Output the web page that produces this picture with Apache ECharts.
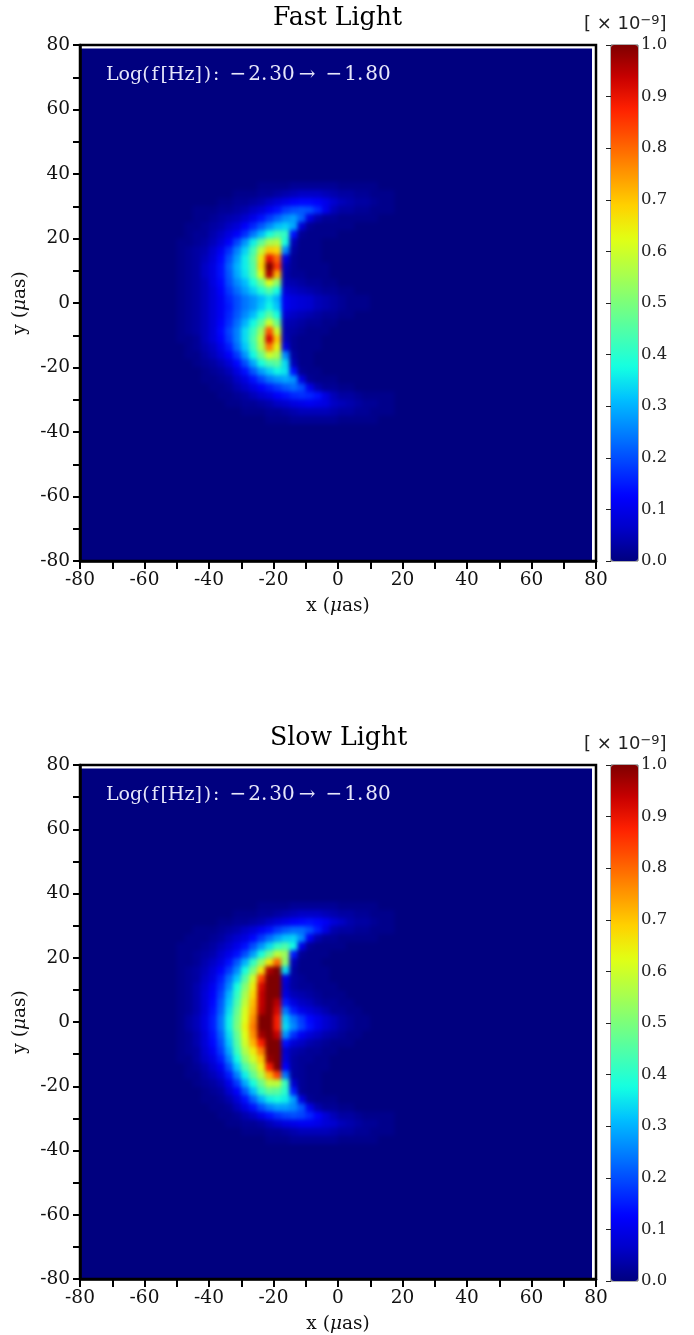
<!DOCTYPE html>
<html><head><meta charset="utf-8">
<style>
html,body{margin:0;padding:0;background:#fff}
#stage{position:relative;width:694px;height:1335px;overflow:hidden}
#heat,#axes{position:absolute;left:0;top:0;width:694px;height:1335px}
#heat{filter:blur(2.2px)}
#clip{position:absolute;left:0;top:0;width:694px;height:1335px;clip-path:path('M81 48.5H592V560H81Z M81 768.5H592V1280H81Z')}
</style>
<script src="https://cdn.jsdelivr.net/npm/echarts@6/dist/echarts.min.js"></script>
</head><body>
<div id="stage"><div id="clip"><div id="heat"></div></div><div id="axes"></div></div>
<script>
const xCentres=[-48.75,-46.25,-43.75,-41.25,-38.75,-36.25,-33.75,-31.25,-28.75,-26.25,-23.75,-21.25,-18.75,-16.25,-13.75,-11.25,-8.75,-6.25,-3.75,-1.25,1.25,3.75,6.25,8.75,11.25,13.75,16.25];
const yCentres=[36.25,33.75,31.25,28.75,26.25,23.75,21.25,18.75,16.25,13.75,11.25,8.75,6.25,3.75,1.25,-1.25,-3.75,-6.25,-8.75,-11.25,-13.75,-16.25,-18.75,-21.25,-23.75,-26.25,-28.75,-31.25,-33.75,-36.25];
const fastRows=[
[0,0,0,0,0,0,0,0,0,0,1,1,1,1,2,2,2,2,2,2,1,1,1,1,1,0,0],
[0,0,0,0,0,0,0,1,1,1,2,2,3,4,5,6,6,6,5,4,3,3,2,2,1,1,1],
[0,0,0,0,0,1,1,2,2,3,4,6,8,10,12,13,13,12,10,7,5,4,3,3,2,1,1],
[0,0,1,1,1,2,2,3,4,6,8,11,14,18,20,21,20,16,10,5,3,3,2,2,1,1,1],
[0,0,1,1,2,3,4,5,7,10,14,18,22,26,28,22,9,4,2,2,1,1,1,1,1,0,0],
[0,1,1,2,3,4,6,8,12,16,21,26,31,33,29,8,2,1,1,1,1,1,0,0,0,0,0],
[0,1,2,2,4,6,9,12,17,24,31,38,43,41,14,2,1,1,1,1,0,0,0,0,0,0,0],
[1,1,2,3,5,8,12,19,27,36,46,55,57,38,5,1,1,1,0,0,0,0,0,0,0,0,0],
[1,2,3,4,7,11,17,25,33,43,58,70,68,26,3,1,1,1,0,0,0,0,0,0,0,0,0],
[1,2,3,5,8,13,20,28,36,46,66,90,80,9,2,1,1,1,0,0,0,0,0,0,0,0,0],
[1,2,3,6,9,14,22,30,36,45,68,105,85,5,2,1,1,1,1,0,0,0,0,0,0,0,0],
[1,2,3,6,9,14,21,29,35,44,62,96,72,4,2,2,1,1,1,0,0,0,0,0,0,0,0],
[1,2,3,5,9,13,20,26,31,38,48,62,52,5,4,3,2,2,1,1,0,0,0,0,0,0,0],
[1,2,3,5,8,12,18,23,28,33,39,45,38,8,6,5,4,3,2,2,1,1,0,0,0,0,0],
[1,2,3,5,8,11,16,20,24,27,31,35,30,11,9,8,7,5,4,3,2,1,1,1,0,0,0],
[1,2,3,5,8,11,15,20,24,27,32,37,32,11,9,8,7,5,4,3,2,1,1,1,0,0,0],
[1,2,3,5,8,11,16,21,26,31,38,46,38,8,6,5,4,3,2,2,1,1,0,0,0,0,0],
[1,2,3,5,8,12,17,23,30,37,46,60,48,5,4,3,2,2,1,1,0,0,0,0,0,0,0],
[1,2,3,5,8,13,19,25,34,42,54,82,60,4,3,2,1,1,1,0,0,0,0,0,0,0,0],
[1,1,2,5,8,12,18,25,34,44,58,92,70,5,2,1,1,1,0,0,0,0,0,0,0,0,0],
[0,1,2,4,6,10,15,23,32,42,56,78,64,9,2,1,1,1,0,0,0,0,0,0,0,0,0],
[0,1,1,3,5,8,12,18,27,37,48,60,56,26,3,1,1,0,0,0,0,0,0,0,0,0,0],
[0,0,1,2,3,5,8,13,20,29,38,44,46,34,5,1,1,0,0,0,0,0,0,0,0,0,0],
[0,0,0,1,2,3,5,9,14,21,28,33,37,35,14,2,1,1,0,0,0,0,0,0,0,0,0],
[0,0,0,1,1,2,3,6,9,14,19,24,27,29,27,9,2,1,1,1,0,0,0,0,0,0,0],
[0,0,0,0,1,1,2,4,6,9,12,15,18,21,23,20,10,4,2,2,1,1,0,0,0,0,0],
[0,0,0,0,0,1,1,2,3,5,7,9,12,14,16,17,16,14,9,5,3,3,2,1,1,1,1],
[0,0,0,0,0,0,1,1,2,2,3,4,6,7,9,10,11,10,9,6,5,4,3,2,2,1,1],
[0,0,0,0,0,0,0,0,1,1,1,2,2,3,4,5,5,5,5,4,3,3,2,2,1,1,1],
[0,0,0,0,0,0,0,0,0,0,0,1,1,1,2,2,2,2,2,2,1,1,1,1,1,0,0]
];
const slowRows=[
[0,0,0,0,0,0,0,0,0,0,1,1,1,1,2,2,2,2,2,2,1,1,1,1,1,0,0],
[0,0,0,0,0,0,0,1,1,1,2,2,3,4,5,6,6,6,5,4,3,3,2,2,1,1,1],
[0,0,0,0,0,1,1,2,2,3,4,6,8,10,12,13,14,13,11,8,6,4,3,3,2,1,1],
[0,0,1,1,1,2,3,4,6,8,11,14,18,21,23,23,20,15,9,4,3,3,2,2,1,1,1],
[0,1,1,1,2,3,5,7,9,13,18,23,28,32,33,26,11,4,2,2,1,1,1,1,1,0,0],
[1,1,1,2,3,5,7,10,14,20,27,34,41,44,37,10,2,1,1,1,1,0,0,0,0,0,0],
[1,1,2,3,4,7,10,14,20,28,38,48,58,54,15,2,1,1,1,0,0,0,0,0,0,0,0],
[1,1,2,4,6,9,14,21,30,41,53,66,80,52,5,1,1,1,0,0,0,0,0,0,0,0,0],
[1,2,3,5,8,12,18,26,38,50,66,96,108,34,3,1,1,1,1,0,0,0,0,0,0,0,0],
[1,2,3,6,9,15,23,32,45,60,84,112,112,9,3,2,1,1,1,0,0,0,0,0,0,0,0],
[1,2,4,7,11,17,26,38,51,65,92,118,112,7,3,2,2,1,1,1,0,0,0,0,0,0,0],
[1,2,4,8,12,19,30,41,55,68,94,118,100,9,5,4,3,2,1,1,1,0,0,0,0,0,0],
[1,2,4,8,13,21,32,44,58,71,94,114,95,15,9,6,5,3,2,2,1,1,0,0,0,0,0],
[1,2,4,8,14,22,34,47,61,73,95,112,92,24,15,10,8,6,4,2,2,1,1,0,0,0,0],
[1,3,5,9,15,24,36,49,62,76,100,110,88,32,24,18,13,10,7,5,3,2,1,1,0,0,0],
[1,3,5,9,15,24,36,50,64,78,100,106,88,34,26,19,14,10,7,5,3,2,1,1,0,0,0],
[1,2,4,8,14,22,34,47,62,76,97,110,94,27,17,11,8,6,4,3,2,1,1,0,0,0,0],
[1,2,4,8,13,20,32,45,60,72,88,112,100,14,8,6,4,3,2,1,1,1,0,0,0,0,0],
[1,2,3,7,11,18,29,42,56,65,78,108,105,7,4,3,2,2,1,1,0,0,0,0,0,0,0],
[1,1,3,6,9,15,25,37,51,60,70,98,108,8,3,2,2,1,1,0,0,0,0,0,0,0,0],
[0,1,2,4,7,11,20,32,44,53,64,88,106,12,3,2,1,1,1,0,0,0,0,0,0,0,0],
[0,1,1,3,5,8,15,25,36,47,57,72,84,24,3,2,1,1,0,0,0,0,0,0,0,0,0],
[0,0,1,2,3,5,10,18,29,38,48,58,58,42,7,2,1,1,0,0,0,0,0,0,0,0,0],
[0,0,0,1,2,3,7,12,21,31,41,47,46,40,15,2,1,1,0,0,0,0,0,0,0,0,0],
[0,0,0,1,1,2,4,8,14,22,30,36,38,36,28,9,2,1,1,1,0,0,0,0,0,0,0],
[0,0,0,0,1,1,2,5,9,14,20,25,28,28,26,21,10,4,2,2,1,1,0,0,0,0,0],
[0,0,0,0,0,1,1,2,4,6,10,14,17,19,20,19,16,12,8,5,3,3,2,1,1,1,1],
[0,0,0,0,0,0,1,1,2,2,3,5,7,9,10,11,11,10,8,7,5,4,3,2,2,1,1],
[0,0,0,0,0,0,0,0,1,1,1,2,2,3,4,5,5,5,5,4,3,3,2,2,1,1,1],
[0,0,0,0,0,0,0,0,0,0,0,1,1,1,2,2,2,2,2,2,1,1,1,1,1,0,0]
];
const panelTitles=['Fast Light','Slow Light'];
const titleLeft=[273,270];
const annotation='{a|Log(\u200af\u200a[Hz]\u200a)\u200a:}\u2002\u2212\u200a2.\u200a30\u2009\u2192\u2002\u2212\u200a1.\u200a80';
const jet=['#00007f','#0000c8','#0000ff','#0040ff','#0080ff','#00bfff','#14ffe2','#48ffaf','#7bff7b','#afff48','#e2ff14','#ffd200','#ff9700','#ff5c00','#ff2100','#c80000','#7f0000'];
const tops=[45,765];
const serif='"DejaVu Serif"';
const cells=[];for(let i=0;i<64;i++)cells.push(String(-78.75+2.5*i));
function toData(rows){const d=[];rows.forEach((r,j)=>r.forEach((v,i)=>d.push([String(xCentres[i]),String(yCentres[j]),v/100])));return d;}

const heat=echarts.init(document.getElementById('heat'),null,{renderer:'canvas'});
heat.setOption({
 animation:false,backgroundColor:'#00007f',
 grid:tops.map(t=>({left:80,top:t,width:516,height:516,containLabel:false})),
 xAxis:tops.map((t,i)=>({type:'category',gridIndex:i,data:cells,show:false})),
 yAxis:tops.map((t,i)=>({type:'category',gridIndex:i,data:cells,show:false})),
 visualMap:[{show:false,min:0,max:1,seriesIndex:[0,1],inRange:{color:jet},outOfRange:{color:'#7f0000'}}],
 series:[fastRows,slowRows].map((rows,i)=>({name:panelTitles[i],type:'heatmap',xAxisIndex:i,yAxisIndex:i,data:toData(rows),itemStyle:{borderWidth:0},progressive:0,silent:true}))
});

const axes=echarts.init(document.getElementById('axes'),null,{renderer:'canvas'});
const muRich={i:{fontFamily:serif,fontStyle:'italic',fontSize:18.5,color:'#111'}};
const tickLabel={fontFamily:serif,fontSize:18.5,color:'#111'};
const grids=[],xs=[],ys=[],titles=[],vms=[];
tops.forEach((t,i)=>{
 grids.push({left:80,top:t,width:516,height:516,show:true,borderColor:'#000',borderWidth:2.5,backgroundColor:'transparent'});
 grids.push({left:611,top:t,width:27,height:516,show:true,borderColor:'#333',borderWidth:0.8,backgroundColor:'transparent'});
 const k=i*2;
 xs.push({type:'value',gridIndex:k,min:-80,max:80,interval:20,name:'x ({i|\u03bc}as)',nameLocation:'middle',nameGap:36,
  nameTextStyle:{fontFamily:serif,fontSize:18.5,color:'#111',rich:muRich},
  axisLine:{show:true,onZero:false,lineStyle:{color:'#000',width:2.5}},axisTick:{show:true,length:8,lineStyle:{color:'#000',width:2}},
  minorTick:{show:true,splitNumber:2,length:8,lineStyle:{color:'#000',width:2}},splitLine:{show:false},minorSplitLine:{show:false},
  axisLabel:Object.assign({margin:10,showMinLabel:true,showMaxLabel:true},tickLabel),z:10});
 ys.push({type:'value',gridIndex:k,min:-80,max:80,interval:20,name:'y ({i|\u03bc}as)',nameLocation:'middle',nameGap:45,nameRotate:90,
  nameTextStyle:{fontFamily:serif,fontSize:18.5,color:'#111',rich:muRich},
  axisLine:{show:true,onZero:false,lineStyle:{color:'#000',width:2.5}},axisTick:{show:true,length:7,lineStyle:{color:'#000',width:2}},
  minorTick:{show:true,splitNumber:2,length:7,lineStyle:{color:'#000',width:2}},splitLine:{show:false},minorSplitLine:{show:false},
  axisLabel:Object.assign({margin:10,showMinLabel:true,showMaxLabel:true},tickLabel),z:10});
 xs.push({type:'value',gridIndex:k+1,min:0,max:1,show:false});
 ys.push({type:'value',gridIndex:k+1,position:'right',min:0,max:1,interval:0.1,
  axisLine:{show:false},axisTick:{show:true,inside:true,length:5,lineStyle:{color:'#222',width:1}},splitLine:{show:false},
  axisLabel:{fontFamily:serif,fontSize:16.5,color:'#222',margin:3,showMinLabel:true,showMaxLabel:true,formatter:v=>v.toFixed(1)},z:10});
 titles.push({text:panelTitles[i],left:titleLeft[i],top:t-39,padding:0,textStyle:{fontFamily:serif,fontSize:25.2,fontWeight:'normal',color:'#000'}});
 titles.push({text:'[ \u00d7 10{s|\u22129}]',left:584,top:t-31,padding:0,textStyle:{fontFamily:'"DejaVu Sans"',fontSize:18,fontWeight:'normal',color:'#222',rich:{s:{fontFamily:'"DejaVu Sans"',fontSize:13,color:'#222',verticalAlign:'top',padding:[0,0,8,0]}}}});
 titles.push({text:annotation,left:106,top:t+20,padding:0,textStyle:{fontFamily:serif,fontSize:20,fontWeight:'normal',color:'#e6e6fa',rich:{a:{fontFamily:serif,fontSize:19,color:'#e6e6fa'}}}});
 vms.push({type:'continuous',show:true,min:0,max:1,seriesIndex:[],left:611,top:t,itemWidth:27,itemHeight:516,padding:0,text:null,showLabel:false,calculable:false,hoverLink:false,inRange:{color:jet},textStyle:{fontSize:0}});
});
axes.setOption({animation:false,backgroundColor:'transparent',grid:grids,xAxis:xs,yAxis:ys,title:titles,visualMap:vms,series:[]});
</script></body></html>
